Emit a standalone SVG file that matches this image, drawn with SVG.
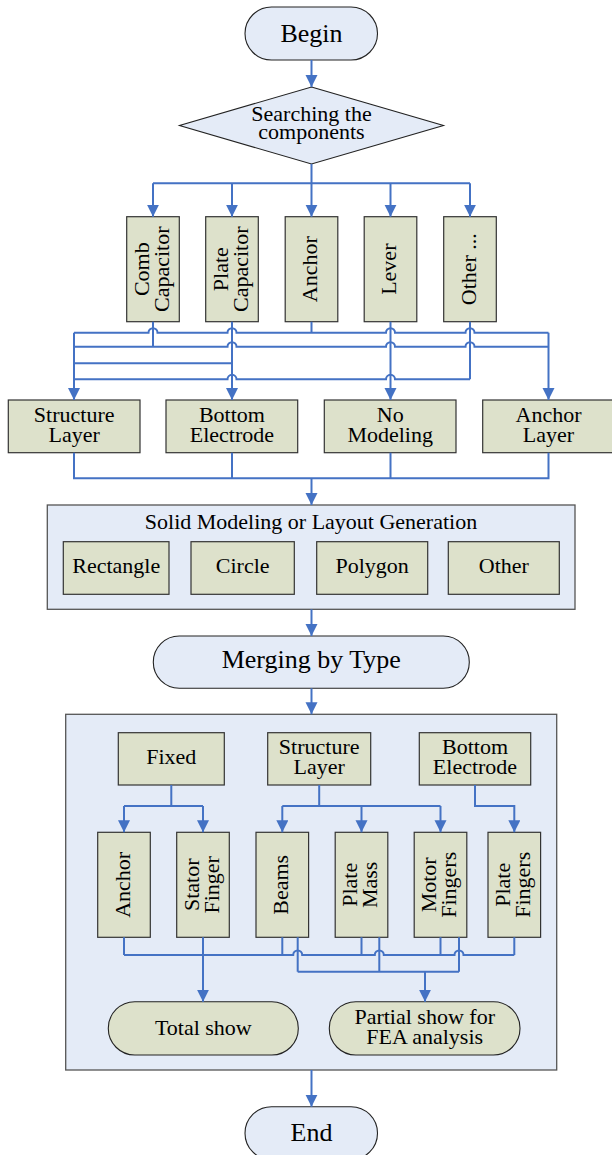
<svg xmlns="http://www.w3.org/2000/svg" width="612" height="1155" viewBox="0 0 612 1155">
<style>
text{font-family:"Liberation Serif","Times New Roman",serif;fill:#000;text-anchor:middle}
.t{font-size:22px}
.big{font-size:26px}
.box{fill:#dde1cb;stroke:#333;stroke-width:1.2}
.pill{fill:#e4ebf7;stroke:#222;stroke-width:1.1}
.gpill{fill:#dde1cb;stroke:#222;stroke-width:1.1}
.cont{fill:#e4ebf7;stroke:#555;stroke-width:1.3}
.c{fill:none;stroke:#4472c4;stroke-width:2}
.a{marker-end:url(#ah)}
</style>
<defs>
<marker id="ah" markerUnits="userSpaceOnUse" markerWidth="13" markerHeight="13" refX="12" refY="6" orient="auto">
<path d="M0,0 L12,6 L0,12 Z" fill="#4472c4"/>
</marker>
</defs>

<g id="begin"><rect class="pill" x="245" y="7" width="132.5" height="53" rx="26.5"/><text class="big" x="311.5" y="42">Begin</text></g>
<g id="search"><polygon class="pill" points="311.5,87 443.5,125.5 311.5,164 179.5,125.5"/><text class="t" x="311.5" y="120.5">Searching the</text><text class="t" x="311.5" y="139">components</text></g>

<g id="comb"><rect class="box" x="126.7" y="216.7" width="52.6" height="105"/><text class="t" transform="translate(153,269.2) rotate(-90)"><tspan x="0" y="-4.5">Comb</tspan><tspan x="0" y="15.5">Capacitor</tspan></text></g>
<g id="plate"><rect class="box" x="205.7" y="216.7" width="52.6" height="105"/><text class="t" transform="translate(232,269.2) rotate(-90)"><tspan x="0" y="-4.5">Plate</tspan><tspan x="0" y="15.5">Capacitor</tspan></text></g>
<g id="anchor"><rect class="box" x="285.2" y="216.7" width="52.6" height="105"/><text class="t" transform="translate(311.5,269.2) rotate(-90)" y="5.5">Anchor</text></g>
<g id="lever"><rect class="box" x="364.2" y="216.7" width="52.6" height="105"/><text class="t" transform="translate(390.5,269.2) rotate(-90)" y="5.5">Lever</text></g>
<g id="other1"><rect class="box" x="443.7" y="216.7" width="52.6" height="105"/><text class="t" transform="translate(470,269.2) rotate(-90)" y="5.5">Other ...</text></g>

<g id="structure"><rect class="box" x="8.3" y="400" width="131.7" height="52.7"/><text class="t" x="74.2" y="421.7">Structure</text><text class="t" x="74.2" y="441.7">Layer</text></g>
<g id="bottom"><rect class="box" x="166" y="400" width="131.7" height="52.7"/><text class="t" x="231.9" y="421.7">Bottom</text><text class="t" x="231.9" y="441.7">Electrode</text></g>
<g id="nomodel"><rect class="box" x="324.3" y="400" width="131.7" height="52.7"/><text class="t" x="390.2" y="421.7">No</text><text class="t" x="390.2" y="441.7">Modeling</text></g>
<g id="anchorlayer"><rect class="box" x="482.7" y="400" width="131.7" height="52.7"/><text class="t" x="548.5" y="421.7">Anchor</text><text class="t" x="548.5" y="441.7">Layer</text></g>

<g id="solid"><rect class="cont" x="47.3" y="505" width="527.7" height="104.3"/><text class="t" x="311" y="529.3">Solid Modeling or Layout Generation</text>
<rect class="box" x="63.3" y="541.7" width="105.7" height="52.6"/><text class="t" x="116.2" y="572.7">Rectangle</text>
<rect class="box" x="191" y="541.7" width="103.3" height="52.6"/><text class="t" x="242.7" y="572.7">Circle</text>
<rect class="box" x="316.7" y="541.7" width="111" height="52.6"/><text class="t" x="372.2" y="572.7">Polygon</text>
<rect class="box" x="448.3" y="541.7" width="111" height="52.6"/><text class="t" x="503.8" y="572.7">Other</text></g>

<g id="merging"><rect class="pill" x="153.3" y="636" width="316" height="52.3" rx="26"/><text class="big" x="311.3" y="668">Merging by Type</text></g>

<g id="typebox"><rect class="cont" x="65.7" y="714.3" width="491" height="355.7"/></g>
<g id="fixed"><rect class="box" x="118.3" y="732.7" width="106" height="52.3"/><text class="t" x="171.3" y="764">Fixed</text></g>
<g id="structure2"><rect class="box" x="267.7" y="732.7" width="103" height="52.3"/><text class="t" x="319.2" y="754">Structure</text><text class="t" x="319.2" y="773.7">Layer</text></g>
<g id="bottom2"><rect class="box" x="419.3" y="732.7" width="111.4" height="52.3"/><text class="t" x="475" y="754">Bottom</text><text class="t" x="475" y="773.7">Electrode</text></g>

<g id="anchor2"><rect class="box" x="97.7" y="832.3" width="52.6" height="105"/><text class="t" transform="translate(124,884.8) rotate(-90)" y="5.5">Anchor</text></g>
<g id="stator"><rect class="box" x="176.7" y="832.3" width="52.6" height="105"/><text class="t" transform="translate(203,884.8) rotate(-90)"><tspan x="0" y="-4.5">Stator</tspan><tspan x="0" y="15.5">Finger</tspan></text></g>
<g id="beams"><rect class="box" x="256" y="832.3" width="52.6" height="105"/><text class="t" transform="translate(282.3,884.8) rotate(-90)" y="5.5">Beams</text></g>
<g id="platemass"><rect class="box" x="335.2" y="832.3" width="52.6" height="105"/><text class="t" transform="translate(361.5,884.8) rotate(-90)"><tspan x="0" y="-4.5">Plate</tspan><tspan x="0" y="15.5">Mass</tspan></text></g>
<g id="motor"><rect class="box" x="414.2" y="832.3" width="52.6" height="105"/><text class="t" transform="translate(440.5,884.8) rotate(-90)"><tspan x="0" y="-4.5">Motor</tspan><tspan x="0" y="15.5">Fingers</tspan></text></g>
<g id="platefingers"><rect class="box" x="488" y="832.3" width="52.6" height="105"/><text class="t" transform="translate(514.3,884.8) rotate(-90)"><tspan x="0" y="-4.5">Plate</tspan><tspan x="0" y="15.5">Fingers</tspan></text></g>

<g id="total"><rect class="gpill" x="108.3" y="1001.7" width="190" height="53.3" rx="26.5"/><text class="t" x="203.3" y="1034.5">Total show</text></g>
<g id="partial"><rect class="gpill" x="329.3" y="1001.7" width="190.7" height="53.3" rx="26.5"/><text class="t" x="424.7" y="1023.5">Partial show for</text><text class="t" x="424.7" y="1043.5">FEA analysis</text></g>

<g id="end"><rect class="pill" x="245" y="1106.7" width="132.5" height="53" rx="26.5"/><text class="big" x="311.5" y="1141">End</text></g>

<g id="connectors">
<path class="c a" d="M311.5,60 V87"/>
<path class="c" d="M311.5,164 V183.3 M153,183.3 H470"/>
<path class="c a" d="M153,183.3 V216.7"/>
<path class="c a" d="M232,183.3 V216.7"/>
<path class="c a" d="M311.5,183.3 V216.7"/>
<path class="c a" d="M390.5,183.3 V216.7"/>
<path class="c a" d="M470,183.3 V216.7"/>

<path class="c" d="M311.5,321.7 V332.7 M74,332.7 H148.5 a4.5,4.5 0 0 1 9,0 H227.5 a4.5,4.5 0 0 1 9,0 H386 a4.5,4.5 0 0 1 9,0 H465.5 a4.5,4.5 0 0 1 9,0 H548.5"/>
<path class="c" d="M153,321.7 V346.7 M74,346.7 H227.5 a4.5,4.5 0 0 1 9,0 H386 a4.5,4.5 0 0 1 9,0 H465.5 a4.5,4.5 0 0 1 9,0 H548.5"/>
<path class="c" d="M74,363.3 H232"/>
<path class="c" d="M470,321.7 V379.3 M74,379.3 H227.5 a4.5,4.5 0 0 1 9,0 H386 a4.5,4.5 0 0 1 9,0 H470"/>
<path class="c a" d="M74,332.7 V400"/>
<path class="c a" d="M548.5,332.7 V400"/>
<path class="c a" d="M232,321.7 V400"/>
<path class="c a" d="M390.5,321.7 V400"/>

<path class="c" d="M74,452.7 V478.3 H548.5 V452.7 M232,452.7 V478.3 M390.5,452.7 V478.3"/>
<path class="c a" d="M311.5,478.3 V505"/>
<path class="c a" d="M311.5,609.3 V636"/>
<path class="c a" d="M311.5,688.3 V714.3"/>

<path class="c" d="M171.3,785 V806 M124,806 H203"/>
<path class="c a" d="M124,806 V832.3"/>
<path class="c a" d="M203,806 V832.3"/>
<path class="c" d="M319.2,785 V806 M282.3,806 H440.5"/>
<path class="c a" d="M282.3,806 V832.3"/>
<path class="c a" d="M361.5,806 V832.3"/>
<path class="c a" d="M440.5,806 V832.3"/>
<path class="c a" d="M475,785 V806 H514.3 V832.3"/>

<path class="c" d="M124,937.3 V955 M282.3,937.3 V955 M361.5,937.3 V955 M440.5,937.3 V955 M514.3,937.3 V955 M124,955 H293.2 a4.5,4.5 0 0 1 9,0 H374.8 a4.5,4.5 0 0 1 9,0 H454.5 a4.5,4.5 0 0 1 9,0 H514.3"/>
<path class="c a" d="M203,937.3 V1001.7"/>
<path class="c" d="M297.7,937.3 V971.7 M379.3,937.3 V971.7 M459,937.3 V971.7 M297.7,971.7 H459"/>
<path class="c a" d="M425,971.7 V1001.7"/>
<path class="c a" d="M311.5,1070 V1106.7"/>
</g>
</svg>
